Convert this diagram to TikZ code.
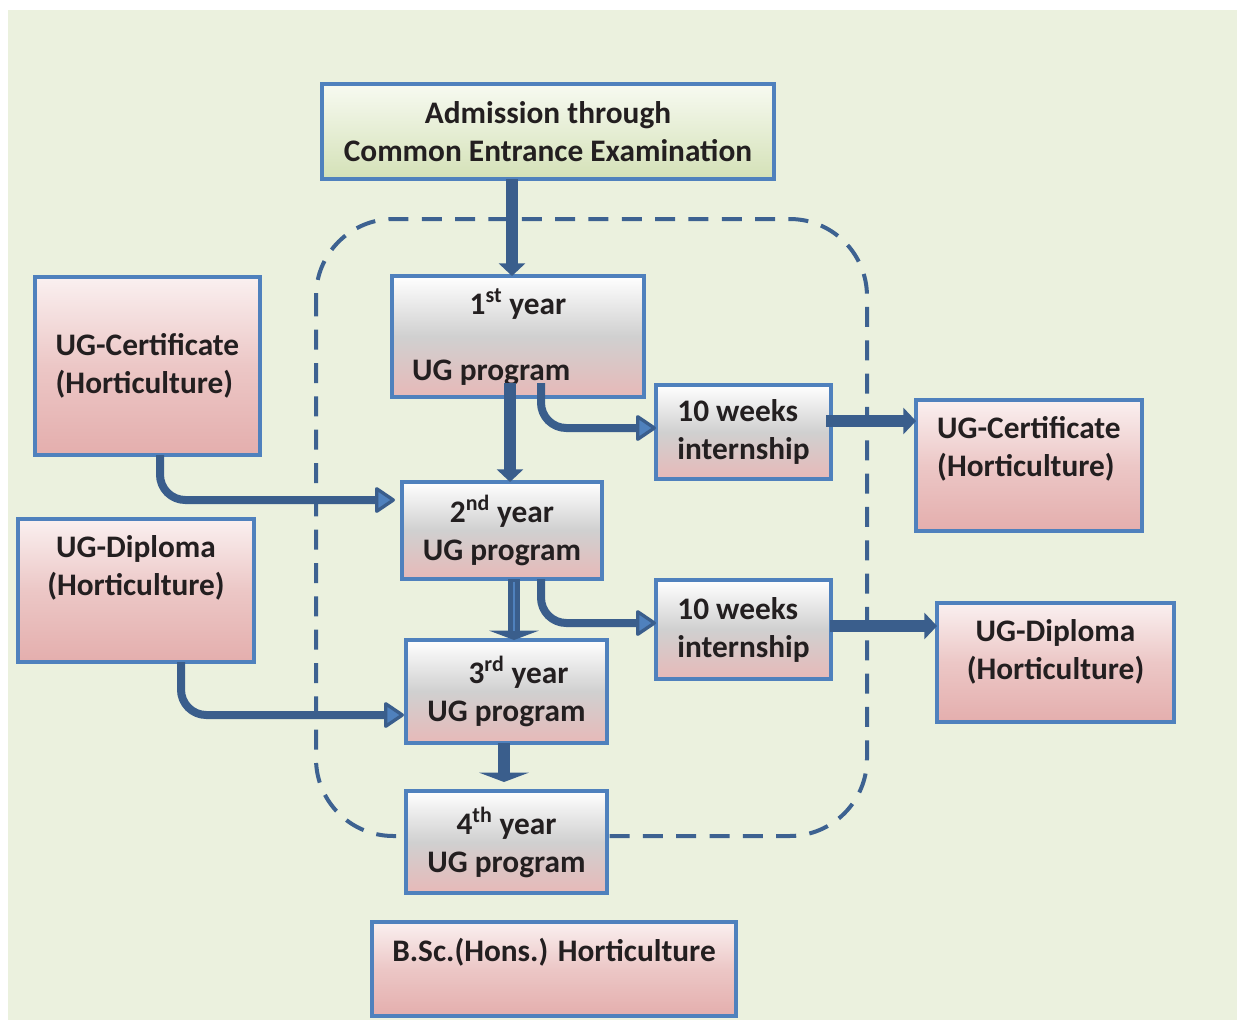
\documentclass[tikz,border=0pt]{standalone}
\usepackage{fontspec}
\setmainfont{Carlito}
\usetikzlibrary{arrows.meta,calc}
\definecolor{bgGreen}{RGB}{235,241,222}
\definecolor{boxBlue}{RGB}{79,129,189}
\definecolor{arrBlue}{RGB}{58,94,140}
\definecolor{dashBlue}{RGB}{61,98,145}
\definecolor{txtDark}{RGB}{35,31,32}
\definecolor{pinkTop}{RGB}{250,240,240}
\definecolor{pinkMid}{RGB}{236,199,198}
\definecolor{pinkBot}{RGB}{228,174,173}
\definecolor{yrGray}{RGB}{208,208,208}
\definecolor{yrPink}{RGB}{231,185,184}
\definecolor{grnTop}{RGB}{247,250,241}
\definecolor{grnBot}{RGB}{212,225,183}

\begin{document}
\begin{tikzpicture}[x=0.75pt,y=0.75pt,yscale=-1,xscale=1,
    box/.style={draw=boxBlue, line width=3pt, inner sep=0pt, outer sep=0pt, text=txtDark,
        font=\bfseries\fontsize{23.5}{28.5}\selectfont, align=center},
    yearbox/.style={box, top color=white, bottom color=yrPink, middle color=yrGray},
    pinkbox/.style={box, top color=pinkTop, bottom color=pinkBot, middle color=pinkMid},
    entrybox/.style={box, top color=grnTop, bottom color=grnBot},
    thickarrow/.style={draw=arrBlue, line width=9pt, -{Triangle[length=9.5pt,width=19.5pt]}},
    flatarrow/.style={draw=arrBlue, line width=9.5pt, -{Triangle[length=7pt,width=37pt]}},
    innerline/.style={draw=boxBlue, line width=1.5pt},
    bendarrow/.style={draw=arrBlue, line width=6pt, rounded corners=19pt,
        -{Triangle[length=16pt,width=21pt,line width=2.5pt,fill=boxBlue,round]}},
    loopline/.style={draw=dashBlue, line width=3pt, dash pattern=on 15pt off 10pt, rounded corners=58pt}
]
    \useasboundingbox (0,0) rectangle (1237,1020);
    % background
    \fill[bgGreen] (8,10) rectangle (1237,1020);
    % dashed frame round the four years
    \draw[loopline] (316,219) rectangle (867,836);

    % boxes
    \node[entrybox, minimum width=339pt, minimum height=71.25pt] (adm) at (548,131.5)
        {Admission through\\Common Entrance Examination};
    \node[yearbox, minimum width=189pt, minimum height=90.75pt, text depth=3pt] (y1) at (518,336.5)
        {1\textsuperscript{st} year\\[21pt]UG program\hspace*{40pt}\mbox{}};
    \node[yearbox, minimum width=131.25pt, minimum height=70.5pt, align=left] (int1) at (743.5,432)
        {10 weeks\\internship};
    \node[pinkbox, minimum width=168.75pt, minimum height=133.5pt, align=left] (certL) at (147.5,366)
        {UG-Certificate\\(Horticulture)};
    \node[yearbox, minimum width=150pt, minimum height=72.75pt] (y2) at (502,530.5)
        {2\textsuperscript{nd} year\\UG program};
    \node[pinkbox, minimum width=177pt, minimum height=107.25pt, text depth=37pt] (diplL) at (136,590.5)
        {UG-Diploma\\(Horticulture)};
    \node[yearbox, minimum width=131.25pt, minimum height=74.25pt, align=left] (int2) at (743.5,629.5)
        {10 weeks\\internship};
    \node[pinkbox, minimum width=169.5pt, minimum height=98.25pt, align=left, text depth=28.5pt] (certR) at (1029,465.5)
        {UG-Certificate\\(Horticulture)};
    \node[yearbox, minimum width=150.75pt, minimum height=77.25pt] (y3) at (506.5,691.5)
        {\hspace*{18pt}3\textsuperscript{rd} year\\UG program};
    \node[pinkbox, minimum width=177.75pt, minimum height=89.25pt, text depth=19.5pt] (diplR) at (1055.5,662.5)
        {UG-Diploma\\(Horticulture)};
    \node[yearbox, minimum width=150.75pt, minimum height=76.5pt] (y4) at (506.5,842)
        {4\textsuperscript{th} year\\UG program};
    \node[pinkbox, minimum width=273pt, minimum height=70.5pt, text depth=28pt] (bsc) at (554,969)
        {B.Sc.(Hons.) Horticulture};

    % connectors
    \coordinate (i1out) at ($(int1.east)+(-5,-11)$);
    \coordinate (i2out) at ($(int2.east)+(-1,-3.5)$);
    \draw[thickarrow] ($(adm.south)+(-36,0)$) -- ($(y1.north)+(-6,0)$);
    \draw[thickarrow] ($(y1.south)+(-8,-14)$) -- ($(y2.north)+(8,0)$);
    \draw[bendarrow] ($(y1.south)+(23,-14)$) |- ($(int1.west)+(0,-4)$);
    \draw[thickarrow] (i1out) -- (i1out -| certR.west);
    \draw[bendarrow] ($(certL.south)+(12.5,0)$) |- ($(y2.west)+(-7,-30.5)$);
    \draw[flatarrow] ($(y2.south)+(12,0)$) -- ($(y3.north)+(7.5,0)$);
    \draw[innerline] ($(y2.south)+(12,3)$) -- ($(y3.north)+(7.5,-9)$);
    \draw[bendarrow] ($(y2.south)+(39,0)$) |- ($(int2.west)+(0,-6.5)$);
    \draw[thickarrow] (i2out) -- (i2out -| diplR.west);
    \draw[bendarrow] ($(diplL.south)+(45,0)$) |- ($(y3.west)+(-2,23.5)$);
    \draw[flatarrow] ($(y3.south)+(-2.5,0)$) -- ($(y4.north)+(-2.5,-9)$);
\end{tikzpicture}
\end{document}
